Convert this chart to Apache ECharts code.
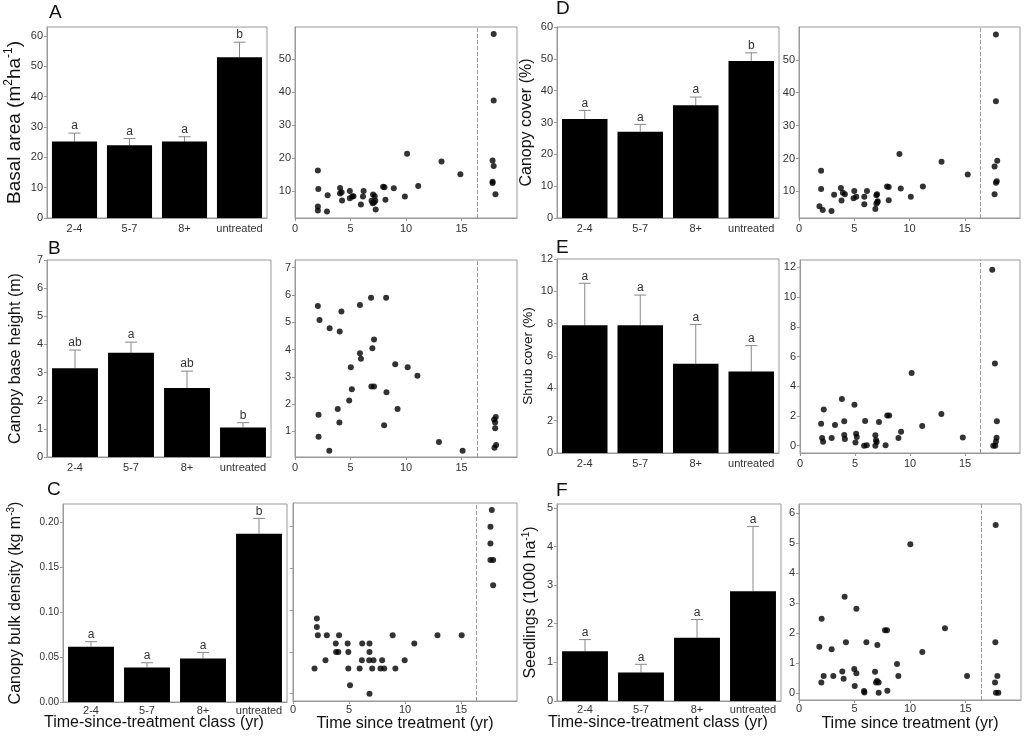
<!DOCTYPE html>
<html>
<head>
<meta charset="utf-8">
<script src="https://cdn.jsdelivr.net/npm/echarts@6/dist/echarts.min.js"></script>
<style>
html, body { margin: 0; padding: 0; background: #fff; }
#chart { width: 1024px; height: 738px; }
</style>
</head>
<body>
<div id="chart"></div>
<script>
// time-since-treatment classes (bar panels)
var classes = ['2-4', '5-7', '8+', 'untreated'];

// A - basal area
var basalMean = [25.2, 24.0, 25.2, 53.0];
var basalUpper = [28.0, 26.2, 26.8, 58.0];
var basalLetters = ['a', 'a', 'a', 'b'];
var basalPts = [[2.06,16.3],[2.1,10.7],[2.06,5.4],[2.06,4.2],[2.94,8.8],[2.88,3.9],[4.06,11.0],[4.06,9.3],[4.2,9.7],[4.24,7.2],
  [4.94,10.1],[4.94,7.9],[5.15,8.4],[5.27,8.5],[5.94,6.0],[6.18,10.1],[6.12,8.4],[6.9,7.1],[7.03,9.0],[7.12,6.6],
  [7.18,8.5],[7.0,6.4],[7.27,4.5],[7.24,7.1],[7.94,11.4],[8.06,11.2],[8.15,7.4],[8.9,10.9],[9.9,8.4],[10.1,21.4],
  [11.1,11.6],[13.2,19.0],[14.9,15.2],[17.9,57.7],[17.9,37.5],[17.8,19.3],[17.9,17.7],[17.8,12.9],[17.8,12.5],[18.06,9.1]];

// B - canopy base height
var cbhMean = [3.15, 3.7, 2.45, 1.05];
var cbhUpper = [3.8, 4.08, 3.05, 1.22];
var cbhLetters = ['ab', 'a', 'ab', 'b'];
var cbhPts = [[2.06,5.59],[2.21,5.08],[2.12,1.61],[2.12,0.80],[3.12,4.78],[3.09,0.29],[4.18,5.39],[4.03,4.66],[3.85,1.82],[4.0,1.32],
  [5.03,3.35],[5.12,2.54],[4.88,2.13],[5.85,5.63],[5.85,3.86],[5.94,3.66],[6.85,5.90],[7.12,4.37],[6.97,4.05],[6.88,2.64],
  [7.12,2.64],[8.21,5.90],[8.24,2.43],[8.03,1.22],[9.03,3.46],[9.24,1.82],[10.15,3.35],[11.03,3.04],[12.97,0.61],[15.1,0.29],
  [18.09,1.53],[17.94,1.43],[18.03,1.32],[18.03,1.11],[18.12,0.50],[17.97,0.40]];

// C - canopy bulk density
var cbdMean = [0.0615, 0.0384, 0.0484, 0.187];
var cbdUpper = [0.067, 0.0436, 0.0551, 0.204];
var cbdLetters = ['a', 'a', 'a', 'b'];
var cbdPts = [[1.92,0.04],[2.13,0.10],[2.13,0.09],[2.22,0.08],[2.9,0.05],[3.02,0.08],[3.82,0.07],[3.85,0.06],[4.05,0.06],[4.11,0.08],
  [4.88,0.07],[4.94,0.06],[4.94,0.04],[5.09,0.02],[5.95,0.04],[6.15,0.05],[6.18,0.07],[6.83,0.07],[6.83,0.06],[6.8,0.05],
  [6.83,0.01],[7.19,0.05],[7.07,0.04],[7.81,0.04],[7.96,0.05],[8.14,0.04],[8.9,0.08],[9.14,0.04],[9.97,0.05],[10.83,0.07],
  [12.9,0.08],[15.06,0.08],[17.75,0.23],[17.63,0.21],[17.63,0.19],[17.63,0.17],[17.87,0.17],[17.87,0.14]];

// D - canopy cover
var coverMean = [31.1, 27.1, 35.4, 49.3];
var coverUpper = [33.8, 29.4, 38.0, 51.9];
var coverLetters = ['a', 'a', 'a', 'b'];
var coverPts = [[2.0,16.3],[2.0,10.7],[1.85,5.5],[2.15,4.3],[3.18,9.0],[2.94,4.0],[3.79,11.0],[3.97,9.6],[4.15,9.1],[3.85,7.2],
  [5.0,10.1],[4.94,7.9],[5.18,8.4],[5.91,8.4],[5.91,6.1],[6.15,10.1],[6.91,4.6],[7.0,8.8],[7.06,9.1],[7.0,6.2],
  [7.12,7.0],[7.09,6.7],[7.97,11.5],[8.12,11.3],[8.12,7.3],[9.09,21.4],[9.21,10.9],[10.12,8.4],[11.21,11.5],[12.9,19.0],
  [15.27,15.1],[17.82,57.7],[17.82,37.4],[17.94,19.3],[17.7,17.6],[17.9,13.1],[17.82,12.6],[17.7,9.1]];

// E - shrub cover
var shrubMean = [7.9, 7.9, 5.52, 5.04];
var shrubUpper = [10.5, 9.77, 7.95, 6.64];
var shrubLetters = ['a', 'a', 'a', 'a'];
var shrubPts = [[1.92,1.48],[2.16,2.44],[2.01,0.52],[2.1,0.27],[2.88,0.52],[3.18,1.39],[3.81,3.14],[4.02,1.64],[4.02,0.72],[4.08,0.45],
  [4.95,2.76],[5.1,0.81],[5.16,0.58],[5.04,0.22],[5.92,1.66],[5.83,0.0],[6.07,0.04],[6.85,0.70],[6.91,0.36],[6.97,0.25],
  [6.85,0.0],[7.18,1.59],[7.78,0.04],[7.93,2.04],[8.11,2.04],[8.95,0.52],[9.19,0.94],[10.15,4.89],[11.11,1.32],[12.85,2.13],
  [14.8,0.56],[17.48,11.84],[17.72,5.54],[17.9,1.64],[17.87,0.54],[17.81,0.29],[17.57,0.0],[17.75,0.0]];

// F - seedlings
var seedMean = [1.29, 0.74, 1.64, 2.84];
var seedUpper = [1.59, 0.95, 2.11, 4.52];
var seedLetters = ['a', 'a', 'a', 'a'];
var seedPts = [[1.83,1.54],[2.04,2.48],[2.01,0.35],[2.22,0.57],[2.94,1.46],[3.09,0.57],[4.11,3.21],[3.9,0.72],[4.02,0.48],[4.23,1.69],
  [4.98,0.80],[5.02,0.24],[5.17,0.66],[5.17,2.81],[5.86,0.07],[5.89,0.02],[6.07,1.69],[6.85,0.71],[6.94,0.35],[7.03,0.40],
  [7.18,0.35],[7.06,1.60],[7.18,0.01],[7.75,2.09],[7.93,2.09],[7.96,0.08],[8.83,0.97],[8.95,0.57],[10.03,4.96],[11.11,1.37],
  [13.15,2.16],[15.14,0.57],[17.72,5.6],[17.69,1.69],[17.66,0.35],[17.87,0.57],[17.75,0.01],[17.96,0.01]];

// untreated stands are plotted to the right of this line
var untreatedCut = 16.4;
var timeTicks = [0, 5, 10, 15];

var FONT = '"Liberation Sans", Arial, sans-serif';
var GRAY = '#999';

var grids = [], xAxes = [], yAxes = [], series = [];

function nameStyle(size) {
  var lh = Math.round(size * 1.25);
  var sup = Math.round(size * 0.63);
  return {
    color: '#111', fontSize: size, fontFamily: FONT, lineHeight: lh,
    rich: {
      n: { fontSize: size, fontFamily: FONT, color: '#111', lineHeight: lh },
      s: { fontSize: sup, fontFamily: FONT, color: '#111', lineHeight: sup + 2, verticalAlign: 'top' }
    }
  };
}

function addGrid(box) {
  grids.push({ left: box[0], top: box[1], width: box[2], height: box[3],
    show: true, borderColor: GRAY, borderWidth: 1, backgroundColor: 'transparent' });
  return grids.length - 1;
}

function valueY(i, min, max, ticks, fmt, showLabel, name, gap, nameSize, labelSize) {
  return {
    type: 'value', gridIndex: i, min: min, max: max,
    axisLine: { show: true, onZero: false, lineStyle: { color: GRAY } },
    axisTick: { show: true, length: 3, customValues: ticks, lineStyle: { color: GRAY } },
    axisLabel: { show: showLabel, customValues: ticks, color: '#333', fontSize: labelSize || 11,
      fontFamily: FONT, margin: 4, formatter: fmt },
    splitLine: { show: false },
    name: name || '', nameLocation: 'middle', nameGap: gap || 20, nameTextStyle: nameStyle(nameSize || 16)
  };
}

function errorRenderer(mean, upper, letters) {
  return function (params, api) {
    var k = params.dataIndex;
    var base = api.coord([k, mean[k]]);
    var top = api.coord([k, upper[k]]);
    return {
      type: 'group',
      children: [
        { type: 'line', shape: { x1: base[0], y1: base[1], x2: top[0], y2: top[1] }, style: { stroke: '#888', lineWidth: 1 } },
        { type: 'line', shape: { x1: top[0] - 6, y1: top[1], x2: top[0] + 6, y2: top[1] }, style: { stroke: '#888', lineWidth: 1 } },
        { type: 'text', style: { text: letters[k], x: top[0], y: top[1] - 1, align: 'center', verticalAlign: 'bottom',
          fontSize: 12, fontFamily: FONT, fill: '#333' } }
      ]
    };
  };
}

// p: {box, max, ticks, fmt, name, gap, nameSize, labelSize, margin}
function barPanel(p, mean, upper, letters) {
  var i = addGrid(p.box);
  xAxes.push({
    type: 'category', gridIndex: i, data: classes,
    axisLine: { show: true, onZero: false, lineStyle: { color: GRAY } },
    axisTick: { show: false },
    axisLabel: { color: '#333', fontSize: 11, fontFamily: FONT, margin: p.margin || 5, interval: 0 },
    splitLine: { show: false }
  });
  yAxes.push(valueY(i, 0, p.max, p.ticks, p.fmt, true, p.name, p.gap, p.nameSize, p.labelSize));
  series.push({ type: 'bar', xAxisIndex: i, yAxisIndex: i, data: mean, barWidth: '82%',
    itemStyle: { color: '#000' }, silent: true });
  series.push({ type: 'custom', xAxisIndex: i, yAxisIndex: i, silent: true,
    data: mean.map(function (v, k) { return [k, v, upper[k]]; }),
    encode: { x: 0, y: [1, 2] },
    renderItem: errorRenderer(mean, upper, letters) });
}

function scatterPanel(box, yMin, yMax, ticks, showLabel, margin, pts) {
  var i = addGrid(box);
  xAxes.push({
    type: 'value', gridIndex: i, min: 0, max: 20,
    axisLine: { show: true, onZero: false, lineStyle: { color: GRAY } },
    axisTick: { show: true, length: 3, customValues: timeTicks, lineStyle: { color: GRAY } },
    axisLabel: { customValues: timeTicks, color: '#333', fontSize: 11, fontFamily: FONT, margin: margin },
    splitLine: { show: false }
  });
  yAxes.push(valueY(i, yMin, yMax, ticks, null, showLabel));
  series.push({
    type: 'scatter', xAxisIndex: i, yAxisIndex: i, data: pts, symbolSize: 6,
    itemStyle: { color: '#000' }, silent: true,
    markLine: { silent: true, symbol: 'none', label: { show: false },
      lineStyle: { type: 'dashed', color: GRAY, width: 1 }, data: [{ xAxis: untreatedCut }] }
  });
}

function fix2(v) { return v.toFixed(2); }

barPanel({ box: [47, 27, 220, 191], max: 63, ticks: [0,10,20,30,40,50,60],
  name: '{n|Basal area (m}{s|2}{n|ha}{s|-1}{n|)}', gap: 19, nameSize: 19 }, basalMean, basalUpper, basalLetters);
scatterPanel([295, 27, 222, 191], 1.9, 59.8, [10,20,30,40,50], true, 5, basalPts);

barPanel({ box: [557, 27, 222, 191], max: 60, ticks: [0,10,20,30,40,50,60],
  name: 'Canopy cover (%)', gap: 17 }, coverMean, coverUpper, coverLetters);
scatterPanel([799, 27, 221, 191], 1.9, 60, [10,20,30,40,50], true, 5, coverPts);

barPanel({ box: [47, 260, 224, 197], max: 7, ticks: [0,1,2,3,4,5,6,7],
  name: 'Canopy base height (m)', gap: 21 }, cbhMean, cbhUpper, cbhLetters);
scatterPanel([295, 260, 222, 197], 0.06, 7.28, [1,2,3,4,5,6,7], true, 5, cbhPts);

barPanel({ box: [557, 259, 222, 194], max: 12, ticks: [0,2,4,6,8,10,12],
  name: 'Shrub cover (%)', gap: 19, nameSize: 13.5 }, shrubMean, shrubUpper, shrubLetters);
scatterPanel([800, 260, 220, 193], -0.49, 12.5, [0,2,4,6,8,10,12], true, 5, shrubPts);

barPanel({ box: [63, 504, 224, 198], max: 0.22, ticks: [0,0.05,0.10,0.15,0.20], fmt: fix2,
  name: '{n|Canopy bulk density (kg m}{s|-3}{n|)}', gap: 37, labelSize: 10, margin: 3 }, cbdMean, cbdUpper, cbdLetters);
scatterPanel([293, 503, 224, 198], 0.0012, 0.2384, [0.01,0.06,0.11,0.16,0.21], false, 3, cbdPts);

barPanel({ box: [557, 504, 224, 197], max: 5.1, ticks: [0,1,2,3,4,5],
  name: '{n|Seedlings (1000 ha}{s|-1}{n|)}', gap: 16, margin: 3 }, seedMean, seedUpper, seedLetters);
scatterPanel([799, 504, 222, 196], -0.23, 6.3, [0,1,2,3,4,5,6], true, 3, seedPts);

function label(text, x, y, size, align) {
  return { type: 'text', x: x, y: y, silent: true,
    style: { text: text, fontSize: size, fontFamily: FONT, fill: '#111', align: align || 'left', verticalAlign: 'middle' } };
}

var graphics = [
  label('A', 49, 13, 19), label('B', 48, 249, 19), label('C', 47, 490, 19),
  label('D', 556, 9, 19), label('E', 556, 248, 19), label('F', 556, 491, 19),
  label('Time-since-treatment class (yr)', 154, 723, 16, 'center'),
  label('Time since treatment (yr)', 405, 724, 16, 'center'),
  label('Time-since-treatment class (yr)', 658, 723, 16, 'center'),
  label('Time since treatment (yr)', 910, 724, 16, 'center')
];

var chart = echarts.init(document.getElementById('chart'));
chart.setOption({
  animation: false,
  backgroundColor: '#fff',
  textStyle: { fontFamily: FONT },
  grid: grids,
  xAxis: xAxes,
  yAxis: yAxes,
  series: series,
  graphic: graphics
});
</script>
</body>
</html>
